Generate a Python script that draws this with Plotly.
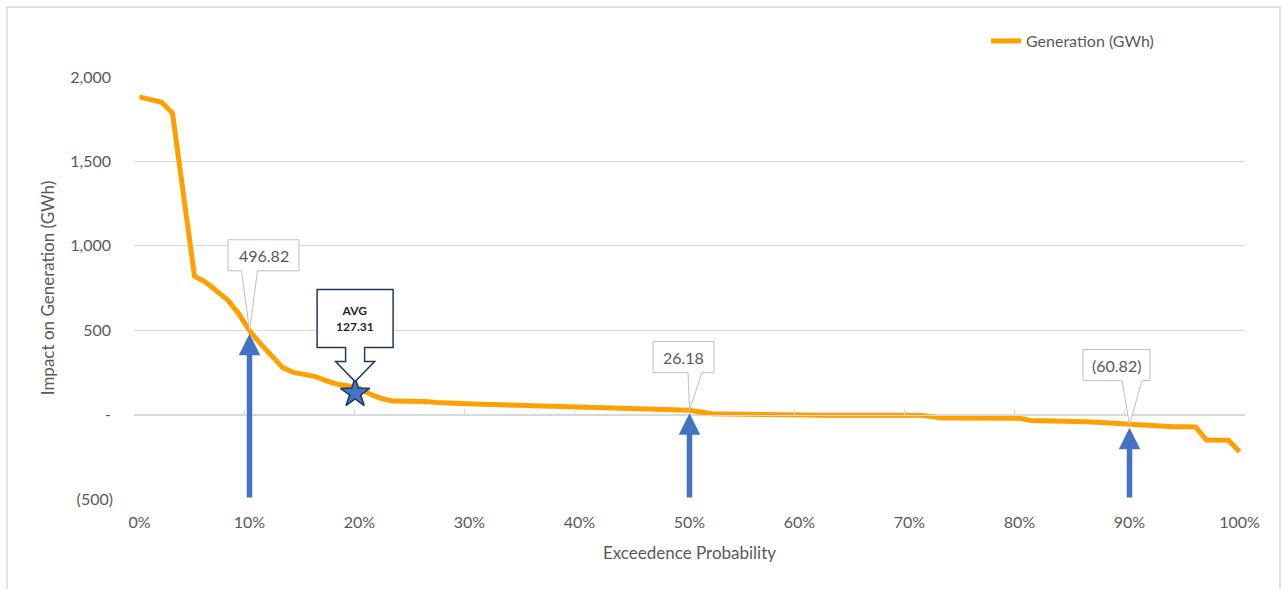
import plotly.graph_objects as go

# ---------------- data ----------------
exceedance_pct = list(range(0, 101))
generation_gwh = [
    1882, 1868, 1850, 1785, 1300, 820, 785, 735, 680, 600,
    496.82, 420, 345, 280, 250, 235, 225, 200, 180, 170,
    155, 120, 95, 80, 80, 80, 78, 72, 68, 66,
    66, 62, 60, 58, 56, 56, 52, 50, 50, 46,
    45, 45, 44, 44, 40, 38, 36, 30, 28, 28,
    26.18, 15, 5, 4, 4, 3, 3, -3, -3, -3,
    -3, -3, -4, -4, -4, -4, -4, -4, -4, -4,
    -4, -4, -12, -20, -20, -20, -20, -20, -20, -20,
    -22, -35, -35, -36, -38, -42, -42, -46, -50, -55,
    -60.82, -60, -62, -67, -72, -72, -73, -150, -150, -152,
    -220,
]
callout_pct = [10, 50, 90]
avg_pct = 19.6
avg_value = 127.31
y_tick_vals = [-500, 0, 500, 1000, 1500, 2000]
y_tick_text = ["(500)", "-\u2009", "500\u2009", "1,000\u2009", "1,500\u2009", "2,000\u2009"]
x_tick_vals = list(range(0, 101, 10))
x_tick_text = [f"{v}%" for v in x_tick_vals]

# ---------------- layout geometry ----------------
W, H = 1283, 589
ML, MR, MT, MB = 134, 38, 77, 90
X_RANGE = [-0.5, 100.5]
Y_RANGE = [-500, 2000]
PW = W - ML - MR
PH = H - MT - MB

FONT = "Lato"
GRAY_TXT = "#595959"
GRID = "#d9d9d9"
ORANGE = "#FFA000"
BLUE = "#4472C4"
NAVY = "#1F3864"


def dx(px):
    return px * (X_RANGE[1] - X_RANGE[0]) / PW


def dy(px):
    return px * (Y_RANGE[1] - Y_RANGE[0]) / PH


def path_from(x, y, pts):
    return "M " + " L ".join(f"{x + dx(a):.4f},{y + dy(b):.4f}" for a, b in pts) + " Z"


def fmt_acct(v):
    return f"({abs(v):,.2f})" if v < 0 else f"{v:,.2f}"


fig = go.Figure()

fig.add_trace(go.Scatter(
    x=exceedance_pct, y=generation_gwh, mode="lines",
    name="Generation (GWh)",
    line=dict(color=ORANGE, width=5),
    hoverinfo="skip",
))

# callout geometry (pixel offsets from the anchor point): box l, r, top, bottom; wedge base a1, a2
callout_geom = {
    10: ((-21.5, 49.5, 91, 60), (-8, 8)),
    50: ((-36.5, 24.5, 68.6, 37.6), (-1.5, 12.5)),
    90: ((-46.5, 20.5, 75.3, 44.3), (-7.5, 12.5)),
}

shapes = []
annotations = []

# blue arrows from the bottom up to the curve
for p in callout_pct:
    v = generation_gwh[exceedance_pct.index(p)]
    annotations.append(dict(
        x=p, y=v, ax=p, ay=Y_RANGE[0], xref="x", yref="y", axref="x", ayref="y",
        text="", showarrow=True, arrowhead=2, arrowsize=0.78, arrowwidth=5.5,
        arrowcolor=BLUE, standoff=3,
    ))

# data callouts
for p in callout_pct:
    v = generation_gwh[exceedance_pct.index(p)]
    (l, r, t, b), (a1, a2) = callout_geom[p]
    pts = [(l, t), (r, t), (r, b), (a2, b), (0, 0), (a1, b), (l, b)]
    shapes.append(dict(type="path", xref="x", yref="y", path=path_from(p, v, pts),
                       line=dict(color="#bfbfbf", width=1), fillcolor="white", layer="above"))
    annotations.append(dict(
        x=p + dx((l + r) / 2), y=v + dy((t + b) / 2), xref="x", yref="y",
        text=fmt_acct(v), showarrow=False, xanchor="center", yanchor="middle",
        font=dict(family=FONT, size=16, color=GRAY_TXT),
    ))

# AVG callout (down-arrow callout)
avg_pts = [(-38, 103.5), (38, 103.5), (38, 45.5), (9.5, 45.5), (9.5, 31.5), (19.5, 31.5),
           (0, 11.5), (-19.5, 31.5), (-9.5, 31.5), (-9.5, 45.5), (-38, 45.5)]
shapes.append(dict(type="path", xref="x", yref="y", path=path_from(avg_pct, avg_value, avg_pts),
                   line=dict(color=NAVY, width=1.5), fillcolor="white", layer="above"))
annotations.append(dict(
    x=avg_pct, y=avg_value + dy(74.5), xref="x", yref="y",
    text=f"<b>AVG</b><br><b>{avg_value:.2f}</b>", showarrow=False,
    xanchor="center", yanchor="middle",
    font=dict(family=FONT, size=12, color="#262626"),
))

# star marker (on the overlay x-axis, which shares the same range)
fig.add_trace(go.Scatter(
    x=[avg_pct], y=[avg_value], mode="markers", showlegend=False, hoverinfo="skip",
    xaxis="x2", yaxis="y",
    marker=dict(symbol="star", size=22, color=BLUE, line=dict(color=NAVY, width=1.5)),
))

# outer chart frame
shapes.append(dict(type="rect", xref="paper", yref="paper",
                   x0=(7 - ML) / PW, x1=(1280 - ML) / PW,
                   y0=(H - MB - 620) / PH, y1=(H - MB - 7) / PH,
                   line=dict(color=GRID, width=1.5), fillcolor="rgba(0,0,0,0)", layer="below"))

zero_pos = (0 - Y_RANGE[0]) / (Y_RANGE[1] - Y_RANGE[0])

fig.update_layout(
    width=W, height=H,
    margin=dict(l=ML, r=MR, t=MT, b=MB, pad=0),
    paper_bgcolor="white", plot_bgcolor="white",
    font=dict(family=FONT, color=GRAY_TXT),
    showlegend=True,
    legend=dict(x=(986 - ML) / PW, y=(H - MB - 41) / PH, xanchor="left", yanchor="middle",
                font=dict(family=FONT, size=16, color=GRAY_TXT), bgcolor="rgba(0,0,0,0)"),
    xaxis=dict(
        range=X_RANGE, tickmode="array", tickvals=x_tick_vals, ticktext=x_tick_text,
        showgrid=False, zeroline=False, showline=False, ticks="",
        tickfont=dict(family=FONT, size=16, color=GRAY_TXT), ticklabelstandoff=12,
        title=dict(text="Exceedence Probability", standoff=17,
                   font=dict(family=FONT, size=17, color=GRAY_TXT)),
    ),
    xaxis2=dict(
        range=X_RANGE, overlaying="x", anchor="free", position=zero_pos, side="bottom",
        tickmode="array", tickvals=[v - 0.5 for v in range(0, 100, 10)],
        ticks="inside", ticklen=6, tickcolor=GRID, tickwidth=1,
        showline=True, linecolor=GRID, linewidth=1,
        showticklabels=False, showgrid=False, zeroline=False,
    ),
    yaxis=dict(
        range=Y_RANGE, tickmode="array", tickvals=y_tick_vals, ticktext=y_tick_text,
        showgrid=True, gridcolor=GRID, gridwidth=1, zeroline=False, showline=False, ticks="",
        tickfont=dict(family=FONT, size=16, color=GRAY_TXT), ticklabelstandoff=20,
        title=dict(text="Impact on Generation (GWh)", standoff=11,
                   font=dict(family=FONT, size=17, color=GRAY_TXT)),
    ),
    shapes=shapes,
    annotations=annotations,
)

fig.write_html("out.html", config={"displayModeBar": False},
               post_script="document.body.style.margin='0';document.body.style.overflow='hidden';")
